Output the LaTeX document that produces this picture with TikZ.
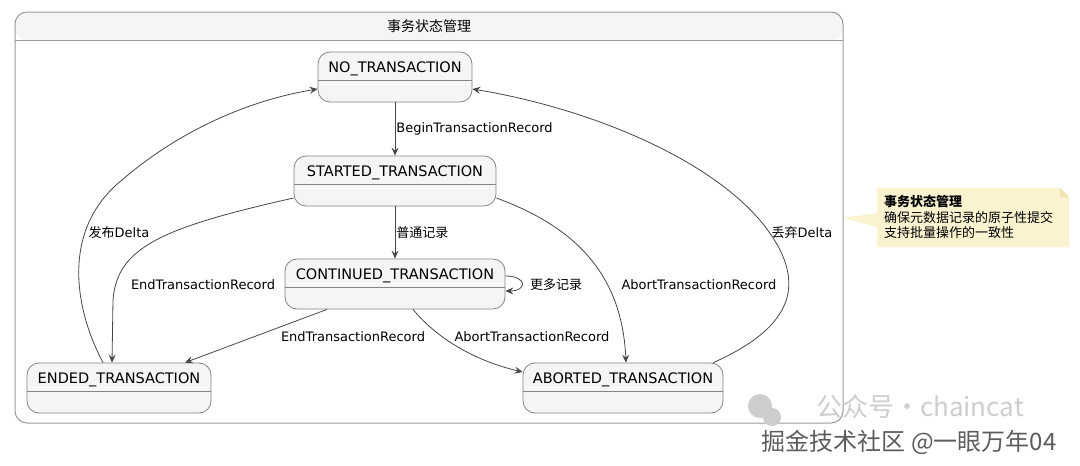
\documentclass[tikz,border=0pt]{standalone}
\usepackage{fontspec}
\setmainfont{DejaVu Sans}
\newfontfamily\cjk{Noto Sans CJK SC}
\usetikzlibrary{arrows.meta}
\definecolor{framecol}{HTML}{9A9A9A}
\definecolor{headfill}{HTML}{F4F5F7}
\definecolor{stateline}{HTML}{858585}
\definecolor{statefill}{HTML}{F4F5F7}
\definecolor{arrowcol}{HTML}{474747}
\definecolor{notefill}{HTML}{FBF3D0}
\definecolor{notefold}{HTML}{F0E3B0}
\definecolor{wmlight}{HTML}{CDCDCD}
\definecolor{wmdark}{HTML}{5C5C5C}
\begin{document}
\begin{tikzpicture}[x=1pt,y=-1pt,
    state/.style={draw=stateline, fill=statefill, rounded corners=12pt, line width=0.8pt,
        inner sep=0pt, text height=20pt, text depth=30pt, font=\fontsize{14.5}{17}\selectfont,
        path picture={\draw[stateline, line width=0.8pt] ([yshift=-28pt]path picture bounding box.north west) -- ([yshift=-28pt]path picture bounding box.north east);}},
    trans/.style={draw=arrowcol, line width=0.8pt, -{Stealth[length=8pt,width=7pt,inset=3pt]}},
    lbl/.style={font=\fontsize{13}{15}\selectfont, inner sep=1pt}]
    \useasboundingbox (0,0) rectangle (1080,466);
    \node[draw=framecol, line width=1pt, rounded corners=12pt, minimum width=828pt, minimum height=411pt, inner sep=0pt,
        path picture={\fill[headfill] (path picture bounding box.north west) rectangle ([yshift=-28pt]path picture bounding box.north east);
            \draw[framecol, line width=1pt] ([yshift=-28pt]path picture bounding box.north west) -- ([yshift=-28pt]path picture bounding box.north east);}] (group) at (429,217.5) {};
    \node[font=\cjk\fontsize{14}{16}\selectfont] (grouptitle) at (429,26) {事务状态管理};

    \node[state, minimum width=154pt] (no) at (395,77) {NO\_TRANSACTION};
    \node[state, minimum width=202pt] (started) at (395,181) {STARTED\_TRANSACTION};
    \node[state, minimum width=220pt] (continued) at (395,284) {CONTINUED\_TRANSACTION};
    \node[state, minimum width=184pt] (ended) at (119,388) {ENDED\_TRANSACTION};
    \node[state, minimum width=200pt] (aborted) at (623,388) {ABORTED\_TRANSACTION};

    \draw[trans] (no) -- node[lbl, right]{BeginTransactionRecord} (started);
    \draw[trans] (started) -- node[lbl, right]{\cjk 普通记录} (continued);
    \draw[trans] ([yshift=8pt]continued.east) .. controls +(22,0) and +(22,0) .. ([yshift=-7pt]continued.east);
    \node[lbl, anchor=west] (morelbl) at (529,285) {\cjk 更多记录};

    \draw[trans] ([yshift=-17pt]started.west) .. controls (160,228) and (117,248) .. (113,300) -- ([xshift=-7pt]ended.north);
    \node[lbl] (endlbla) at (203,285) {EndTransactionRecord};
    \draw[trans] ([xshift=-16pt]ended.north) .. controls (75,310) and (60,230) .. (122,180) .. controls (180,130) and (250,100) .. ([yshift=-12pt]no.west);
    \node[lbl] (publbl) at (119,233) {{\cjk 发布}Delta};
    \draw[trans] ([xshift=-68pt]continued.south) -- ([xshift=66pt]ended.north);
    \node[lbl] (endlblb) at (353,337) {EndTransactionRecord};
    \draw[trans] ([xshift=18pt]continued.south) .. controls (440,342) and (480,362) .. ([yshift=16pt]aborted.west);
    \node[lbl] (abortlblb) at (532,337) {AbortTransactionRecord};
    \draw[trans] ([yshift=-17pt]started.east) .. controls (570,225) and (622,270) .. ([xshift=3pt]aborted.north);
    \node[lbl] (abortlbla) at (699,285) {AbortTransactionRecord};
    \draw[trans] ([xshift=-10pt]aborted.north east) .. controls (775,335) and (805,300) .. (780,250) .. controls (740,170) and (600,110) .. ([yshift=-12pt]no.east);
    \node[lbl] (droplbl) at (802,233) {{\cjk 丢弃}Delta};

    \fill[notefill] (877,188) -- (1060,188) -- (1069,197) -- (1069,247) -- (877,247) -- (877,227) -- (843,218) -- (877,213) -- cycle;
    \fill[notefold] (1060,188) -- (1060,197) -- (1069,197) -- cycle;
    \node[anchor=north west, align=left, inner sep=0pt, font=\cjk\fontsize{13}{15.5}\selectfont] (notetext) at (884,195)
        {{\bfseries 事务状态管理}\\确保元数据记录的原子性提交\\支持批量操作的一致性};

    \fill[wmlight] (760,406) circle (12);
    \fill[wmlight] (772,417) circle (9);
    \node[text=wmlight, font=\cjk\fontsize{26}{28}\selectfont, inner sep=0pt] (wmtop) at (920,407) {公众号·chaincat};
    \node[text=wmdark, font=\cjk\fontsize{24}{26}\selectfont, inner sep=0pt] (wmbottom) at (909,442) {掘金技术社区 @一眼万年04};
\end{tikzpicture}
\end{document}
